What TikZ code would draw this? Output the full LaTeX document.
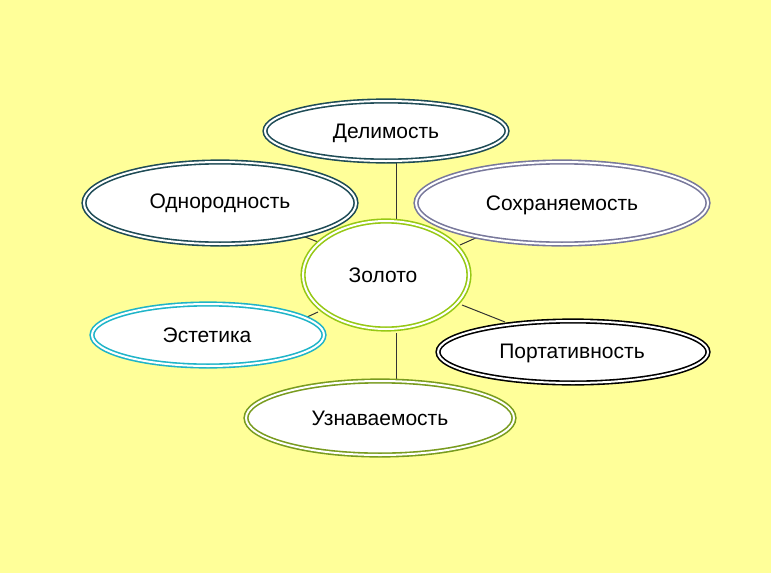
\documentclass[tikz,border=0pt]{standalone}
\usepackage{fontspec}
\setmainfont{Liberation Sans}
\begin{document}
\begin{tikzpicture}[x=1pt,y=-1pt,
  el/.style={draw=#1,double=white,double distance=2pt,line width=1.6pt,fill=white},
  tx/.style={font=\fontsize{21}{24}\selectfont},
  ln/.style={draw=black!80,line width=1pt}]
\fill[fill={rgb,255:red,255;green,255;blue,153}] (0,0) rectangle (771,573);
\useasboundingbox (0,0) rectangle (771,573);
\definecolor{teal1}{RGB}{30,75,85}
\definecolor{grp}{RGB}{120,120,155}
\definecolor{ygr}{RGB}{150,200,20}
\definecolor{cyn}{RGB}{30,180,200}
\definecolor{olv}{RGB}{120,155,30}
\coordinate (c1) at (396,163); \coordinate (c2) at (396,220);
\coordinate (c3) at (300,235); \coordinate (c4) at (318,242);
\coordinate (c5) at (478,237); \coordinate (c6) at (460,245);
\coordinate (c7) at (305,318); \coordinate (c8) at (318,312);
\coordinate (c9) at (462,305); \coordinate (c10) at (505,322);
\coordinate (c11) at (396,333); \coordinate (c12) at (396,380);
\draw[ln] (c1)--(c2); \draw[ln] (c3)--(c4); \draw[ln] (c5)--(c6);
\draw[ln] (c7)--(c8); \draw[ln] (c9)--(c10); \draw[ln] (c11)--(c12);
\path[el=teal1] (386,131) ellipse [x radius=121,y radius=30];
\node[tx] (d) at (386,133) {Делимость};
\path[el=teal1] (220,203) ellipse [x radius=136,y radius=41];
\node[tx] (o) at (220,203) {Однородность};
\path[el=grp] (562,203) ellipse [x radius=146,y radius=41];
\node[tx] (s) at (562,205) {Сохраняемость};
\path[el=ygr] (386,275) ellipse [x radius=83,y radius=54];
\node[tx] (z) at (383,275) {Золото};
\path[el=cyn] (208,335) ellipse [x radius=116,y radius=31];
\node[tx] (e) at (207,335) {Эстетика};
\path[el=black] (573,352) ellipse [x radius=135,y radius=31];
\node[tx] (p) at (572,353) {Портативность};
\path[el=olv] (380,418) ellipse [x radius=134,y radius=37];
\node[tx] (u) at (380,418) {Узнаваемость};
\end{tikzpicture}
\end{document}
